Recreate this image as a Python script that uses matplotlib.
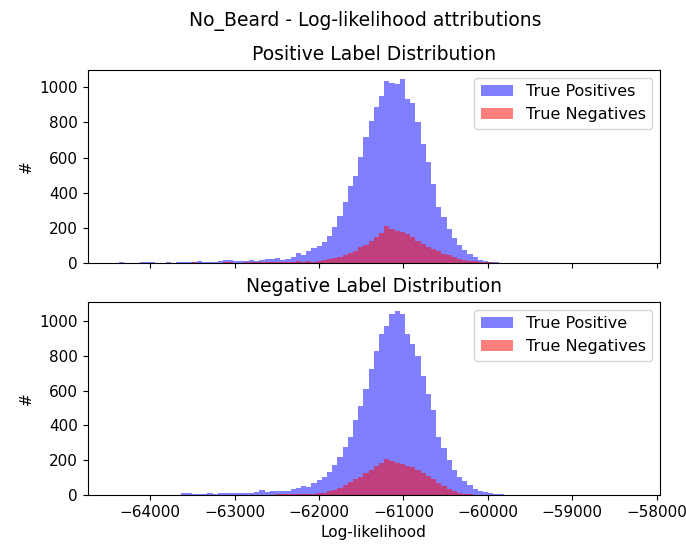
import numpy as np
import matplotlib
matplotlib.use("Agg")
import matplotlib.pyplot as plt

# ---- data: shared histogram bins over log-likelihood ----
LL_MIN = -64430.0
LL_MAX = -58270.0
N_BINS = 100

# Positive label distribution (counts per bin, 100 bins)
pos_true_positives = [
    0, 8, 0, 0, 0, 8, 6, 5, 0, 0,
    5, 4, 5, 6, 5, 6, 10, 5, 6, 7,
    10, 16, 18, 10, 10, 14, 18, 15, 20, 24,
    25, 30, 19, 25, 34, 57, 47, 68, 85, 100,
    119, 157, 205, 271, 347, 441, 498, 606, 716, 811,
    886, 953, 1034, 1023, 1019, 1047, 934, 909, 801, 678,
    574, 451, 320, 262, 196, 144, 106, 78, 54, 35,
    20, 12, 8, 6, 4, 3, 2, 3, 2, 3,
    2, 4, 3, 4, 4, 3, 2, 0, 3, 0,
    4, 0, 0, 0, 0, 0, 0, 0, 0, 0,
]
pos_true_negatives = [
    0, 0, 0, 0, 0, 0, 0, 0, 0, 0,
    0, 3, 4, 3, 4, 5, 3, 0, 3, 0,
    4, 6, 5, 3, 4, 5, 6, 5, 6, 7,
    6, 8, 8, 7, 9, 10, 9, 10, 9, 12,
    19, 22, 30, 38, 44, 58, 72, 90, 105, 129,
    150, 170, 210, 195, 186, 176, 167, 148, 129, 112,
    95, 80, 68, 55, 45, 35, 26, 20, 15, 12,
    9, 7, 5, 4, 3, 3, 2, 2, 3, 2,
    3, 3, 2, 3, 3, 2, 0, 0, 4, 3,
    4, 0, 0, 0, 0, 0, 0, 0, 0, 4,
]

# Negative label distribution (counts per bin, 100 bins)
neg_true_positives = [
    0, 0, 0, 0, 0, 0, 0, 0, 0, 0,
    0, 0, 0, 8, 8, 6, 6, 4, 8, 6,
    10, 13, 10, 12, 13, 12, 10, 14, 30, 18,
    20, 22, 22, 25, 32, 38, 51, 44, 67, 86,
    101, 133, 171, 219, 276, 333, 429, 514, 610, 724,
    829, 924, 971, 1038, 1057, 1038, 924, 867, 800, 686,
    581, 486, 335, 270, 200, 142, 105, 78, 54, 32,
    22, 14, 9, 5, 3, 2, 0, 0, 0, 0,
    0, 0, 0, 0, 0, 0, 0, 0, 0, 0,
    0, 0, 0, 0, 0, 0, 0, 0, 0, 0,
]
neg_true_negatives = [
    0, 0, 0, 0, 0, 0, 0, 0, 0, 0,
    0, 0, 0, 0, 0, 0, 0, 0, 0, 0,
    0, 0, 0, 0, 0, 0, 0, 0, 0, 0,
    2, 3, 3, 4, 4, 5, 5, 6, 5, 8,
    13, 20, 30, 38, 55, 76, 90, 105, 125, 143,
    165, 185, 205, 195, 185, 176, 168, 158, 145, 128,
    110, 90, 70, 50, 35, 22, 13, 7, 4, 2,
    0, 0, 0, 0, 0, 0, 0, 0, 0, 0,
    0, 0, 0, 0, 0, 0, 0, 0, 0, 0,
    0, 0, 0, 0, 0, 0, 0, 0, 0, 0,
]

suptitle = "No_Beard - Log-likelihood attributions"
top_title = "Positive Label Distribution"
bottom_title = "Negative Label Distribution"
top_labels = ["True Positives", "True Negatives"]
bottom_labels = ["True Positive", "True Negatives"]

edges = np.linspace(LL_MIN, LL_MAX, N_BINS + 1)
centers = 0.5 * (edges[:-1] + edges[1:])

plt.rcParams["xtick.labelsize"] = 11
plt.rcParams["ytick.labelsize"] = 11

fig = plt.figure(figsize=(6.86, 5.45), dpi=100)
ax1 = fig.add_axes([0.128, 0.517, 0.834, 0.355])
ax2 = fig.add_axes([0.128, 0.092, 0.834, 0.354], sharex=ax1)

ax1.hist(centers, bins=edges, weights=pos_true_positives, color="blue", alpha=0.5, label=top_labels[0])
ax1.hist(centers, bins=edges, weights=pos_true_negatives, color="red", alpha=0.5, label=top_labels[1])
ax1.set_title(top_title, fontsize=13.5, pad=7)
ax1.set_ylabel("#", fontsize=11)
ax1.legend(loc="upper right", fontsize=11.5)
plt.setp(ax1.get_xticklabels(), visible=False)

ax2.hist(centers, bins=edges, weights=neg_true_positives, color="blue", alpha=0.5, label=bottom_labels[0])
ax2.hist(centers, bins=edges, weights=neg_true_negatives, color="red", alpha=0.5, label=bottom_labels[1])
ax2.set_title(bottom_title, fontsize=13.5, pad=7)
ax2.set_ylabel("#", fontsize=11)
ax2.set_xlabel("Log-likelihood", fontsize=11)
ax2.legend(loc="upper right", fontsize=11.5)

for ax in (ax1, ax2):
    ax.set_yticks([0, 200, 400, 600, 800, 1000])
ax2.set_xticks([-64000, -63000, -62000, -61000, -60000, -59000, -58000])

fig.suptitle(suptitle, fontsize=13.5, x=0.532, y=0.98)
fig.savefig("out.png", dpi=100)
